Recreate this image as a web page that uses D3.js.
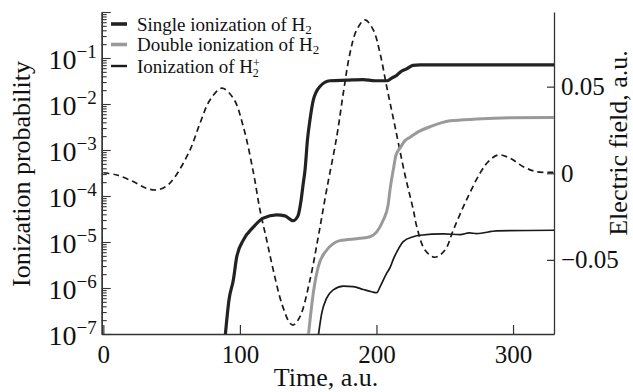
<!DOCTYPE html>
<html>
<head>
<meta charset="utf-8">
<script src="https://cdn.jsdelivr.net/npm/d3@7"></script>
<style>
  body { margin: 0; background: #fff; }
  svg { display: block; }
  svg text { font-family: "Liberation Serif", "Times New Roman", serif; }
</style>
</head>
<body>
<div id="app"></div>
<script>
// time (a.u.) and ionization probability
var singleT = [89.1, 92.0, 95.2, 97.7, 102.5, 109.8, 117.1, 126.9, 133.0, 138.9, 142.5, 144.8, 146.2, 147.7, 149.5, 151.3, 153.7, 158.6, 165.9, 178.2, 190.1, 198.9, 207.9, 211.4, 214.8, 218.0, 222.1, 226.7, 231.9, 260, 290, 330];
var singleP = [8e-8, 5.5e-7, 1.5e-6, 4.8e-6, 1.1e-5, 2.1e-5, 3.3e-5, 3.9e-5, 3.7e-5, 2.9e-5, 3.7e-5, 8.1e-5, 1.7e-4, 3.7e-4, 1.7e-3, 4.5e-3, 1.2e-2, 2.4e-2, 3.2e-2, 3.3e-2, 3.4e-2, 3.2e-2, 3.2e-2, 3.7e-2, 4.2e-2, 5.1e-2, 5.8e-2, 6.9e-2, 7.1e-2, 7.1e-2, 7.1e-2, 7.1e-2];

var doubleT = [150.1, 153.7, 157.4, 163.6, 168.2, 173.2, 187.9, 195.2, 200.2, 205.0, 208.5, 209.9, 212.3, 214.3, 217.2, 220.9, 224.6, 231.9, 239.2, 253.8, 273.4, 297.8, 330];
var doubleP = [9e-8, 7.6e-7, 2.9e-6, 6.7e-6, 9.1e-6, 1.07e-5, 1.2e-5, 1.3e-5, 1.66e-5, 3.0e-5, 6.3e-5, 1.35e-4, 3.7e-4, 7.8e-4, 1.1e-3, 1.6e-3, 1.9e-3, 2.6e-3, 3.2e-3, 4.3e-3, 4.7e-3, 5.0e-3, 5.1e-3];

var ionT = [157.4, 159.9, 163.5, 168.4, 175.7, 183.0, 190.3, 196.5, 200.2, 202.7, 207.5, 210.0, 212.3, 216.0, 219.6, 226.9, 231.9, 249.0, 261.2, 268.0, 273.4, 288.0, 330];
var ionP = [9e-8, 2.8e-7, 6.0e-7, 9.1e-7, 1.1e-6, 1.07e-6, 9.3e-7, 8.3e-7, 7.9e-7, 1.07e-6, 2.1e-6, 2.8e-6, 4.2e-6, 7.0e-6, 1.02e-5, 1.3e-5, 1.4e-5, 1.5e-5, 1.45e-5, 1.58e-5, 1.52e-5, 1.74e-5, 1.8e-5];

// electric field (a.u.), right axis
var fieldT = [0, 9.8, 21.9, 31.7, 39.1, 46.4, 52.5, 63.5, 70.8, 78.1, 86.7, 95.2, 102.5, 109.8, 114.7, 119.6, 124.4, 130.6, 136.7, 139.1, 144.0, 151.3, 157.4, 163.5, 170.9, 175.7, 180.6, 185.5, 191.6, 197.7, 202.6, 207.5, 213.6, 220.9, 227.0, 229.5, 235.5, 242.8, 250.2, 256.3, 264.8, 275.8, 281.9, 289.2, 297.8, 307.5, 317.3, 330];
var fieldE = [0.0003, -0.001, -0.0048, -0.0087, -0.0096, -0.0073, -0.002, 0.0135, 0.0289, 0.0423, 0.0491, 0.0433, 0.0269, 0.0008, -0.0212, -0.0385, -0.0558, -0.0751, -0.0866, -0.0876, -0.0828, -0.0616, -0.0366, -0.0096, 0.0211, 0.0462, 0.0693, 0.0827, 0.0885, 0.0827, 0.0693, 0.05, 0.0269, -0.001, -0.0212, -0.0308, -0.0443, -0.0485, -0.0443, -0.0327, -0.0173, 0.0, 0.0067, 0.0106, 0.0087, 0.0038, 0.0009, 0.0005];

var xTicks = [0, 100, 200, 300];
var logTicks = [-7, -6, -5, -4, -3, -2, -1];
var fieldTicks = [-0.05, 0, 0.05];

var legendNames = ['Single ionization of H', 'Double ionization of H', 'Ionization of H'];

function zip(a, b) {
    return a.map(function (d, i) { return [d, b[i]]; });
}

var width = 633,
    height = 392,
    pLeft = 101.7,
    pRight = 554,
    pTop = 12,
    pBottom = 334;

var serif = '"Liberation Serif", "Times New Roman", serif';

var svg = d3.select('#app').append('svg').attr('width', width).attr('height', height);

var x = d3.scaleLinear().domain([-1.2, 330]).range([pLeft, pRight]);
var y = d3.scaleLog().domain([1e-7, 1]).range([pBottom, pTop]);
var yr = d3.scaleLinear().domain([-0.0928, 0.0931]).range([pBottom, pTop]);

svg.append('clipPath').attr('id', 'clip')
    .append('rect').attr('x', pLeft).attr('y', pTop).attr('width', pRight - pLeft).attr('height', pBottom - pTop);

var axisColor = '#333';

// bottom axis, ticks pointing inward
var gx = svg.append('g').attr('transform', 'translate(0,' + pBottom + ')')
    .call(d3.axisBottom(x).tickValues(xTicks).tickSizeInner(-9).tickSizeOuter(0).tickPadding(11).tickFormat(d3.format('d')));
gx.attr('font-family', serif);
gx.select('.domain').attr('stroke', axisColor).attr('stroke-width', 1.3);
gx.selectAll('.tick line').attr('stroke', axisColor).attr('stroke-width', 1.2);
gx.selectAll('.tick text').attr('font-family', serif).attr('font-size', 25).attr('fill', '#111');

// left log axis, major + minor ticks inward
var minor = [];
logTicks.forEach(function (e) {
    for (var k = 2; k <= 9; k++) minor.push(k * Math.pow(10, e));
});
var gl = svg.append('g').attr('transform', 'translate(' + pLeft + ',0)');
gl.call(d3.axisRight(y).tickValues(minor).tickSizeInner(5).tickSizeOuter(0).tickFormat(''));
gl.append('g').call(d3.axisRight(y).tickValues(logTicks.concat([0]).map(function (e) { return Math.pow(10, e); }))
    .tickSizeInner(9).tickSizeOuter(0).tickFormat(''));
gl.selectAll('.domain').attr('stroke', axisColor).attr('stroke-width', 1.3);
gl.selectAll('.tick line').attr('stroke', axisColor).attr('stroke-width', 1.1);

var ll = svg.append('g');
logTicks.forEach(function (e) {
    var t = ll.append('text').attr('x', pLeft - 5).attr('y', y(Math.pow(10, e)) + 11)
        .attr('text-anchor', 'end').attr('fill', '#111');
    t.append('tspan').attr('font-size', 28).text('10');
    t.append('tspan').attr('font-size', 19).attr('dy', -11).text('\u2212' + (-e));
});

// right axis for the field
var gr = svg.append('g').attr('transform', 'translate(' + pRight + ',0)')
    .call(d3.axisRight(yr).tickValues(fieldTicks).tickSizeInner(-7).tickSizeOuter(0).tickPadding(7)
        .tickFormat(function (d) { return d === 0 ? '0' : (d < 0 ? '\u22120.05' : '0.05'); }));
gr.attr('font-family', serif);
gr.select('.domain').attr('stroke', axisColor).attr('stroke-width', 1.3);
gr.selectAll('.tick line').attr('stroke', axisColor).attr('stroke-width', 1.2);
gr.selectAll('.tick text').attr('font-family', serif).attr('font-size', 25).attr('fill', '#111');

// axis titles
svg.append('text').attr('transform', 'translate(30,174) rotate(-90)')
    .attr('text-anchor', 'middle').attr('font-size', 26).attr('fill', '#111').text('Ionization probability');
svg.append('text').attr('x', 326).attr('y', 386)
    .attr('text-anchor', 'middle').attr('font-size', 26).attr('fill', '#111').text('Time, a.u.');
svg.append('text').attr('transform', 'translate(627,143) rotate(-90)')
    .attr('text-anchor', 'middle').attr('font-size', 26).attr('fill', '#111').text('Electric field, a.u.');

// curves
var plot = svg.append('g').attr('clip-path', 'url(#clip)');

var logLine = d3.line()
    .x(function (d) { return x(d[0]); })
    .y(function (d) { return y(d[1]); })
    .curve(d3.curveMonotoneX);

var fieldLine = d3.line()
    .x(function (d) { return x(d[0]); })
    .y(function (d) { return yr(d[1]); })
    .curve(d3.curveCatmullRom);

plot.append('path').datum(zip(fieldT, fieldE)).attr('d', fieldLine)
    .attr('fill', 'none').attr('stroke', '#1a1a1a').attr('stroke-width', 1.7).attr('stroke-dasharray', '6,4');

var styles = [
    { color: '#222', w: 3.2 },
    { color: '#9a9a9a', w: 3.0 },
    { color: '#1a1a1a', w: 1.7 }
];

plot.append('path').datum(zip(doubleT, doubleP)).attr('d', logLine)
    .attr('fill', 'none').attr('stroke', styles[1].color).attr('stroke-width', styles[1].w);
plot.append('path').datum(zip(ionT, ionP)).attr('d', logLine)
    .attr('fill', 'none').attr('stroke', styles[2].color).attr('stroke-width', styles[2].w);
plot.append('path').datum(zip(singleT, singleP)).attr('d', logLine)
    .attr('fill', 'none').attr('stroke', styles[0].color).attr('stroke-width', styles[0].w);

// legend
var lg = svg.append('g');
var rows = [24, 44.5, 66];
legendNames.forEach(function (name, i) {
    lg.append('line').attr('x1', 111).attr('x2', 127).attr('y1', rows[i]).attr('y2', rows[i])
        .attr('stroke', styles[i].color).attr('stroke-width', i === 2 ? 2.4 : 3.6);
    var t = lg.append('text').attr('x', 137).attr('y', rows[i] + 6.5).attr('font-size', 19).attr('fill', '#111');
    t.append('tspan').text(name);
    if (i < 2) {
        t.append('tspan').attr('font-size', 13).attr('dy', 3).text('2');
    } else {
        t.append('tspan').attr('font-size', 12).attr('dy', -6).text('+');
        t.append('tspan').attr('font-size', 12).attr('dx', -7).attr('dy', 10).text('2');
    }
});
</script>
</body>
</html>
